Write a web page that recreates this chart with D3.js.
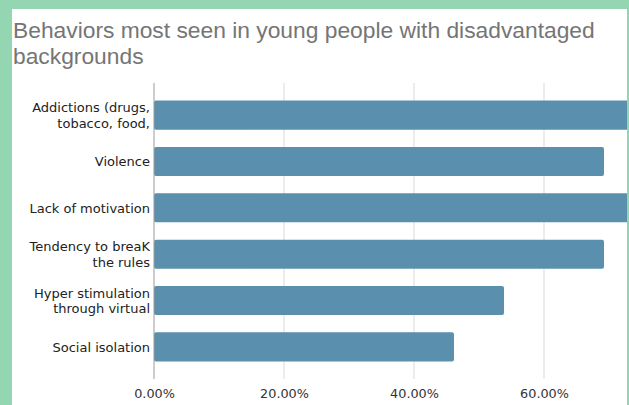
<!DOCTYPE html>
<html>
<head>
<meta charset="utf-8">
<title>Behaviors most seen in young people</title>
<script src="https://cdn.jsdelivr.net/npm/d3@7"></script>
<style>
  body { margin: 0; background: #93d6b1; }
  svg { display: block; font-family: "Liberation Sans", Arial, sans-serif; }
  .lbl { font-family: "DejaVu Sans", Verdana, sans-serif; }
</style>
</head>
<body>
<script>
var categories = [
  ["Addictions (drugs,", "tobacco, food,"],
  ["Violence"],
  ["Lack of motivation"],
  ["Tendency to breaK", "the rules"],
  ["Hyper stimulation", "through virtual"],
  ["Social isolation"]
];
var values = [0.7692, 0.6923, 0.7692, 0.6923, 0.5385, 0.4615];
var ticks = [0, 0.2, 0.4, 0.6];

var width = 629, height = 405;

var svg = d3.select("body").append("svg")
    .attr("width", width)
    .attr("height", height);

svg.append("rect")
    .attr("width", width).attr("height", height)
    .attr("fill", "#93d6b1");

// white card, clipped on the right by the green frame
svg.append("defs").append("clipPath").attr("id", "card")
  .append("rect").attr("x", 12).attr("y", 9).attr("width", 615).attr("height", 396);

var card = svg.append("g").attr("clip-path", "url(#card)");
card.append("rect").attr("x", 12).attr("y", 9).attr("width", 615).attr("height", 396).attr("fill", "#fff");

card.append("text")
    .attr("fill", "#757575")
    .style("font-size", "22.8px")
    .selectAll("tspan")
    .data(["Behaviors most seen in young people with disadvantaged", "backgrounds"])
    .join("tspan")
    .attr("x", 13)
    .attr("y", function(d, i) { return 38 + i * 26; })
    .text(function(d) { return d; });

var x = d3.scaleLinear().domain([0, 0.6]).range([154, 544]);
var y = d3.scaleBand().domain(d3.range(categories.length))
    .range([83, 379]).paddingInner(0.374).paddingOuter(0.38);

card.append("g")
    .selectAll("line")
    .data(ticks.slice(1))
    .join("line")
    .attr("x1", function(d) { return x(d); })
    .attr("x2", function(d) { return x(d); })
    .attr("y1", 83).attr("y2", 379)
    .attr("stroke", "#d9d9d9");

card.append("g")
    .selectAll("rect")
    .data(values)
    .join("rect")
    .attr("x", x(0))
    .attr("y", function(d, i) { return y(i); })
    .attr("width", function(d) { return x(d) - x(0); })
    .attr("height", y.bandwidth())
    .attr("rx", 2)
    .attr("fill", "#5a90ae");

card.append("line")
    .attr("x1", x(0)).attr("x2", x(0))
    .attr("y1", 83).attr("y2", 379)
    .attr("stroke", "#999");

var xAxis = d3.axisBottom(x).tickValues(ticks).tickSize(0).tickFormat(d3.format(".2%"));
card.append("g")
    .attr("transform", "translate(0,386)")
    .call(xAxis)
    .call(function(g) { g.select(".domain").remove(); })
    .selectAll("text")
    .attr("class", "lbl")
    .attr("fill", "#333")
    .style("font-size", "12.8px");

var labels = card.append("g")
    .selectAll("text")
    .data(categories)
    .join("text")
    .attr("class", "lbl")
    .attr("text-anchor", "end")
    .attr("fill", "#222")
    .style("font-size", "13px");

labels.selectAll("tspan")
    .data(function(d, i) {
        return d.map(function(line, j) {
            return { text: line, i: i, j: j, n: d.length };
        });
    })
    .join("tspan")
    .attr("x", 150)
    .attr("y", function(d) {
        return y(d.i) + y.bandwidth() / 2 + 5 + (d.j - (d.n - 1) / 2) * 15.5;
    })
    .text(function(d) { return d.text; });
</script>
</body>
</html>
